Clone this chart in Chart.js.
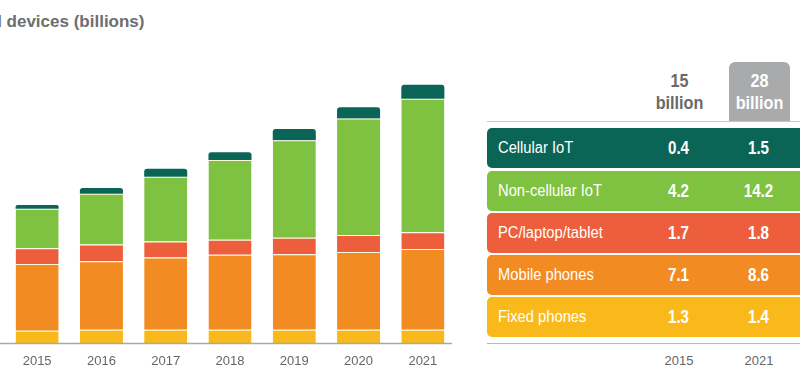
<!DOCTYPE html>
<html>
<head>
<meta charset="utf-8">
<script src="https://cdn.jsdelivr.net/npm/chart.js@4"></script>
<style>
  html, body { margin: 0; padding: 0; background: #fff; width: 800px; height: 388px; overflow: hidden; position: relative; font-family: "Liberation Sans", Arial, sans-serif; }
  #chartBox { position: absolute; left: 0; top: 0; width: 460px; height: 388px; }
  #title { position: absolute; top: 12px; left: 7px; white-space: nowrap; font-weight: bold; font-size: 17px; color: #6e6e6e; }
  .abs { position: absolute; }
  .row { position: absolute; left: 487px; width: 340px; height: 40px; border-radius: 5px; }
  .lbl { position: absolute; left: 11px; top: 0; line-height: 40px; color: #fff; font-size: 16px; white-space: nowrap; }
  .lbl span { display: inline-block; transform: scaleX(0.92); transform-origin: left center; }
  .val { position: absolute; width: 80px; top: 0; line-height: 40px; text-align: center; color: #fff; font-weight: bold; font-size: 18px; }
  .val span { display: inline-block; transform: scaleX(0.84); }
  .head { position: absolute; width: 80px; text-align: center; font-size: 18px; line-height: 22px; font-weight: bold; }
  .head span { display: inline-block; transform: scaleX(0.9); }
  .yr { position: absolute; width: 60px; text-align: center; font-size: 13px; color: #666; top: 353px; }
</style>
</head>
<body>
<div id="title"><span id="pre">Connected </span>devices (billions)</div>
<div id="chartBox"><canvas id="c" width="460" height="388"></canvas></div>
<div id="panel"></div>
<script>
// values (billions); 2015 and 2021 from the table
const years = ["2015", "2016", "2017", "2018", "2019", "2020", "2021"];
const fixedPhones    = [1.3, 1.4, 1.4, 1.4, 1.4, 1.4, 1.4];
const mobilePhones   = [7.1, 7.3, 7.7, 8.0, 8.05, 8.3, 8.6];
const pcLaptopTablet = [1.7, 1.8, 1.7, 1.6, 1.75, 1.8, 1.8];
const nonCellularIoT = [4.2, 5.4, 6.9, 8.5, 10.4, 12.4, 14.2];
const cellularIoT    = [0.4, 0.6, 0.85, 0.8, 1.2, 1.2, 1.5];

const seriesNames  = ["Cellular IoT", "Non-cellular IoT", "PC/laptop/tablet", "Mobile phones", "Fixed phones"];
const seriesData   = [cellularIoT, nonCellularIoT, pcLaptopTablet, mobilePhones, fixedPhones];
const seriesColors = ["#0b6556", "#7fc241", "#ed5f3c", "#f28c22", "#fab91b"];
const tableYears = ["2015", "2021"];

// title is cut at the left edge
const pre = document.getElementById("pre");
document.getElementById("title").style.left = (7 - pre.offsetWidth) + "px";

const sep = "rgba(255,248,215,0.95)";
const datasets = seriesNames.map((name, i) => ({
  label: name,
  data: seriesData[i],
  backgroundColor: seriesColors[i],
  borderColor: sep,
  borderWidth: i === 0 ? 0 : { top: 1, left: 0, right: 0, bottom: 0 },
  borderSkipped: false,
  borderRadius: i === 0 ? { topLeft: 3, topRight: 3, bottomLeft: 0, bottomRight: 0 } : 0,
  categoryPercentage: 1,
  barPercentage: 0.67
})).reverse();

const baseLine = {
  id: "baseLine",
  afterDatasetsDraw(chart) {
    const ctx = chart.ctx, y = chart.chartArea.bottom + 0.5;
    ctx.save();
    ctx.strokeStyle = "#a8a8a8";
    ctx.lineWidth = 1.6;
    ctx.beginPath(); ctx.moveTo(0, y); ctx.lineTo(452, y); ctx.stroke();
    ctx.restore();
  }
};

new Chart(document.getElementById("c"), {
  type: "bar",
  data: { labels: years, datasets },
  options: {
    responsive: false,
    animation: false,
    layout: { padding: { left: 5, right: 5, top: 42.5, bottom: 0 } },
    plugins: { legend: { display: false }, tooltip: { enabled: false } },
    scales: {
      x: {
        stacked: true,
        grid: { display: false, drawTicks: false },
        border: { display: false },
        ticks: { color: "#666", font: { family: "Liberation Sans", size: 13 }, padding: 11 },
        afterFit: s => { s.height = 45; }
      },
      y: { stacked: true, display: false, min: 0, max: 32 }
    }
  },
  plugins: [baseLine]
});

// right-hand table
const panel = document.getElementById("panel");
const colX = [679, 759];
const add = (html) => panel.insertAdjacentHTML("beforeend", html);
const totals = [0, seriesData[0].length - 1].map(k => Math.round(seriesData.reduce((a, s) => a + s[k], 0)));

add(`<div class="abs" style="left:729px;top:62px;width:61px;height:60px;background:#a9aaab;border-radius:6px 6px 0 0"></div>`);
add(`<div class="abs" style="left:487px;top:121px;width:313px;height:1px;background:#c6c6c6"></div>`);
totals.forEach((t, j) => {
  add(`<div class="head" style="left:${colX[j] - 40}px;top:70px;color:${j ? "#fff" : "#6a6a6a"}"><span>${t}<br>billion</span></div>`);
});
const rowTop = [128, 170.5, 213, 255, 297];
seriesNames.forEach((name, i) => {
  const d = seriesData[i];
  add(`<div class="row" style="top:${rowTop[i]}px;background:${seriesColors[i]}">
    <div class="lbl"><span>${name}</span></div>
    <div class="val" style="left:${colX[0] - 487 - 40}px"><span>${d[0].toFixed(1)}</span></div>
    <div class="val" style="left:${colX[1] - 487 - 40}px"><span>${d[d.length - 1].toFixed(1)}</span></div>
  </div>`);
});
add(`<div class="abs" style="left:487px;top:342.5px;width:313px;height:1.5px;background:#b9b5c9"></div>`);
tableYears.forEach((y, j) => add(`<div class="yr" style="left:${colX[j] - 30}px">${y}</div>`));
</script>
</body>
</html>
